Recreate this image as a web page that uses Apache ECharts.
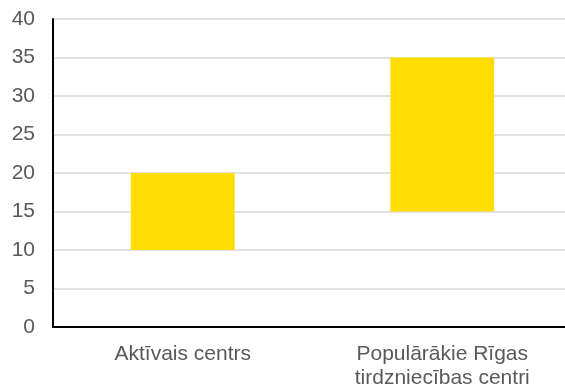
<!DOCTYPE html>
<html>
<head>
<meta charset="utf-8">
<script src="https://cdn.jsdelivr.net/npm/echarts@6/dist/echarts.min.js"></script>
<style>
  html, body { margin: 0; padding: 0; background: #fff; }
  #chart { width: 565px; height: 385px; }
</style>
</head>
<body>
<div id="chart"></div>
<script>
// Range bars: each bar spans from its low to its high value
const categories = ['Aktīvais centrs', 'Populārākie Rīgas\ntirdzniecības centri'];
const lowValues = [10, 15];
const highValues = [20, 35];
const yTicks = { min: 0, max: 40, interval: 5 };

const spans = highValues.map((h, i) => h - lowValues[i]);

const chart = echarts.init(document.getElementById('chart'));
chart.setOption({
  animation: false,
  textStyle: { fontFamily: 'Liberation Sans, Arial, sans-serif' },
  grid: { left: 53, top: 19, right: -7, bottom: 58, containLabel: false, outerBoundsMode: 'none' },
  xAxis: {
    type: 'category',
    data: categories,
    axisLine: { show: true, lineStyle: { color: '#000', width: 2 } },
    axisTick: { show: false },
    axisLabel: { color: '#595959', fontSize: 21, lineHeight: 24, margin: 15 }
  },
  yAxis: {
    type: 'value',
    min: yTicks.min,
    max: yTicks.max,
    interval: yTicks.interval,
    axisLine: { show: true, lineStyle: { color: '#000', width: 2 } },
    axisTick: { show: false },
    axisLabel: { color: '#595959', fontSize: 21, margin: 18 },
    splitLine: { lineStyle: { color: '#d9d9d9', width: 1.5 } }
  },
  series: [
    {
      type: 'bar',
      stack: 'range',
      data: lowValues,
      itemStyle: { color: 'transparent' },
      barWidth: '40%',
      silent: true
    },
    {
      type: 'bar',
      stack: 'range',
      data: spans,
      itemStyle: { color: '#FFDD00' },
      barWidth: '40%'
    }
  ]
});
</script>
</body>
</html>
